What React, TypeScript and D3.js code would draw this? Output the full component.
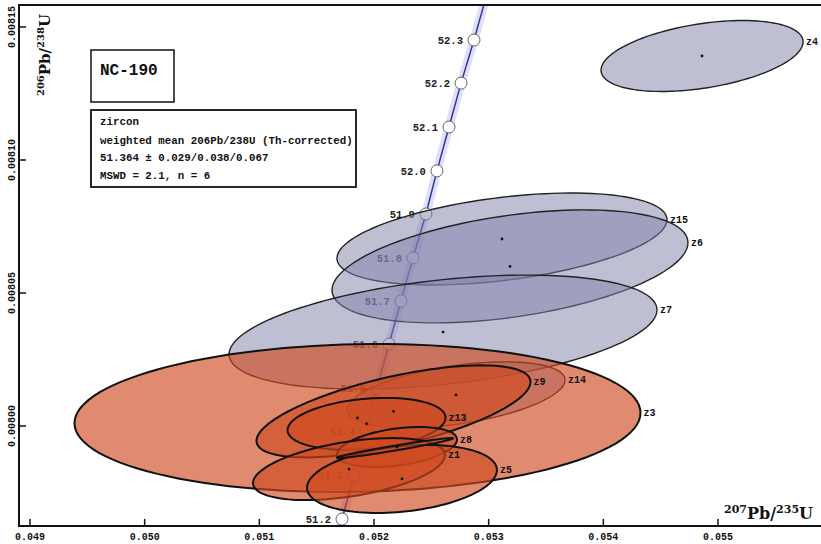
import { useEffect, useRef } from "react";
import * as d3 from "d3";

// axis ticks
const X_TICKS = [0.049, 0.050, 0.051, 0.052, 0.053, 0.054, 0.055];
const Y_TICKS = [0.00800, 0.00805, 0.00810, 0.00815];

// concordia age marks (Ma)
const AGES   = [51.2, 51.3, 51.4, 51.5, 51.6, 51.7, 51.8, 51.9, 52.0, 52.1, 52.2, 52.3];
const AGE_X  = [0.051721, 0.051826, 0.051930, 0.052026, 0.052131, 0.052235, 0.052340, 0.052453, 0.052549, 0.052654, 0.052759, 0.052872];
const AGE_Y  = [0.0079650, 0.0079816, 0.0079981, 0.0080143, 0.0080308, 0.0080470, 0.0080632, 0.0080797, 0.0080959, 0.0081124, 0.0081289, 0.0081451];
// where the curve leaves the frame
const CURVE_LOW  = [0.051703, 0.0079624];
const CURVE_HIGH = [0.052958, 0.0081583];

// error ellipses: centre, half extent in x and y, correlation
const NAMES = ["z4", "z15", "z6", "z7", "z14", "z3", "z9", "z13", "z8", "z1", "z5", ""];
const CX    = [0.054861, 0.053116, 0.053186, 0.052602, 0.052715, 0.051856, 0.052170, 0.051935, 0.052201, 0.051782, 0.052244, 0.052183];
const CY    = [0.0081391, 0.0080703, 0.0080600, 0.0080353, 0.0080117, 0.0080030, 0.0080055, 0.0080008, 0.0079921, 0.0079838, 0.0079801, 0.0079917];
const SX    = [0.000881, 0.001439, 0.001552, 0.001866, 0.000951, 0.002468, 0.001195, 0.000689, 0.000523, 0.000837, 0.000828, 0.000506];
const SY    = [1.334e-5, 1.729e-5, 2.124e-5, 2.143e-5, 1.240e-5, 2.782e-5, 1.730e-5, 9.77e-6, 7.52e-6, 1.165e-5, 1.278e-5, 3.76e-6];
const RHO   = [0.40, 0.42, 0.42, 0.39, 0.45, 0.07, 0.64, 0.24, 0.37, 0.45, 0.26, 0.97];
const USED  = [false, false, false, false, false, true, true, true, true, true, true, true];

const SAMPLE = "NC-190";
const INFO_LINES = [
  "zircon",
  "weighted mean 206Pb/238U (Th-corrected)",
  "51.364 \u00b1 0.029/0.038/0.067",
  "MSWD = 2.1, n = 6",
];

const MONO = "'Liberation Mono', 'DejaVu Sans Mono', monospace";
const SERIF = "'DejaVu Serif', 'Liberation Serif', serif";

export default function App() {
  const svgRef = useRef<SVGSVGElement>(null);

  useEffect(() => {
    if (!svgRef.current) return;
    const W = 821, H = 544;
    const L = 19, T = 5, R = 821, B = 526;
    const svg = d3.select(svgRef.current).attr("width", W).attr("height", H);
    svg.selectAll("*").remove();

    const x = d3.scaleLinear().domain([0.049, 0.055]).range([30, 718]);
    const y = d3.scaleLinear().domain([0.008, 0.00815]).range([426, 27]);

    svg.append("rect").attr("width", W).attr("height", H).attr("fill", "white");
    svg.append("defs").append("clipPath").attr("id", "plot")
      .append("rect").attr("x", L).attr("y", T).attr("width", R - L).attr("height", B - T);

    const g = svg.append("g").attr("clip-path", "url(#plot)");

    // concordia
    const pts: [number, number][] = [CURVE_LOW as [number, number], ...AGES.map((_, i) => [AGE_X[i], AGE_Y[i]] as [number, number]), CURVE_HIGH as [number, number]];
    const cline = d3.line<[number, number]>().x(d => x(d[0])).y(d => y(d[1]));
    g.append("path").attr("d", cline(pts)!).attr("fill", "none").attr("stroke", "#d2d2f4").attr("stroke-width", 9).attr("opacity", 0.7);
    g.append("path").attr("d", cline(pts)!).attr("fill", "none").attr("stroke", "#34349a").attr("stroke-width", 1.5);
    AGES.forEach((a, i) => {
      const px = x(AGE_X[i]), py = y(AGE_Y[i]);
      g.append("circle").attr("cx", px).attr("cy", py).attr("r", 6).attr("fill", "white").attr("stroke", "#666").attr("stroke-width", 1);
      g.append("text").attr("x", px - 11).attr("y", py + 4).attr("text-anchor", "end")
        .attr("font-family", MONO).attr("font-weight", "bold").attr("font-size", 10.5).attr("fill", "#222").text(a.toFixed(1));
    });

    // ellipses
    const thetas = d3.range(0, 120).map(k => (k / 120) * Math.PI * 2);
    const eline = d3.line<[number, number]>().x(d => x(d[0])).y(d => y(d[1])).curve(d3.curveLinearClosed);
    NAMES.forEach((_, i) => {
      const s = Math.sqrt(1 - RHO[i] * RHO[i]);
      const ring = thetas.map(t => [CX[i] + SX[i] * Math.cos(t), CY[i] + SY[i] * (RHO[i] * Math.cos(t) + s * Math.sin(t))] as [number, number]);
      g.append("path").attr("d", eline(ring)!)
        .attr("fill", USED[i] ? "#cf4a20" : "#8080aa")
        .attr("fill-opacity", USED[i] ? 0.64 : 0.5)
        .attr("stroke", USED[i] ? "#111" : "#222")
        .attr("stroke-width", USED[i] ? 2 : 1.4);
    });
    NAMES.forEach((n, i) => {
      if (!n) return;
      g.append("circle").attr("cx", x(CX[i])).attr("cy", y(CY[i])).attr("r", 1.4).attr("fill", "#111");
      const tx = x(CX[i] + SX[i]), ty = y(CY[i] + RHO[i] * SY[i]);
      g.append("text").attr("x", tx + 3).attr("y", ty + 3)
        .attr("font-family", MONO).attr("font-weight", "bold").attr("font-size", 10).attr("fill", "#111").text(n);
    });

    // frame and ticks
    svg.append("path").attr("d", `M${R},${T}H${L}V${B}H${R}`).attr("fill", "none").attr("stroke", "#111").attr("stroke-width", 2);
    X_TICKS.forEach(t => {
      svg.append("line").attr("x1", x(t)).attr("x2", x(t)).attr("y1", B).attr("y2", B - 7).attr("stroke", "#111").attr("stroke-width", 1.5);
      svg.append("text").attr("x", x(t)).attr("y", 540).attr("text-anchor", "middle")
        .attr("font-family", MONO).attr("font-weight", "bold").attr("font-size", 10).attr("fill", "#111").text(t.toFixed(3));
    });
    Y_TICKS.forEach(t => {
      svg.append("line").attr("x1", L).attr("x2", L + 7).attr("y1", y(t)).attr("y2", y(t)).attr("stroke", "#111").attr("stroke-width", 1.5);
      svg.append("text").attr("transform", `translate(15,${y(t)}) rotate(-90)`).attr("text-anchor", "middle")
        .attr("font-family", MONO).attr("font-weight", "bold").attr("font-size", 10).attr("fill", "#111").text(t.toFixed(5));
    });

    // axis titles
    const xt = svg.append("text").attr("x", 813).attr("y", 519).attr("text-anchor", "end")
      .attr("font-family", SERIF).attr("font-weight", "bold").attr("font-size", 16).attr("fill", "#111");
    xt.append("tspan").attr("font-size", 11).attr("dy", -6).text("207");
    xt.append("tspan").attr("dy", 6).text("Pb/");
    xt.append("tspan").attr("font-size", 11).attr("dy", -6).text("235");
    xt.append("tspan").attr("dy", 6).text("U");

    const yt = svg.append("text").attr("transform", "translate(50,55) rotate(-90)").attr("text-anchor", "middle")
      .attr("font-family", SERIF).attr("font-weight", "bold").attr("font-size", 15).attr("fill", "#111");
    yt.append("tspan").attr("font-size", 10).attr("dy", -6).text("206");
    yt.append("tspan").attr("dy", 6).text("Pb/");
    yt.append("tspan").attr("font-size", 10).attr("dy", -6).text("238");
    yt.append("tspan").attr("dy", 6).text("U");

    // sample box
    svg.append("rect").attr("x", 91).attr("y", 50).attr("width", 83).attr("height", 52).attr("fill", "white").attr("stroke", "#111").attr("stroke-width", 1.5);
    svg.append("text").attr("x", 100).attr("y", 75).attr("font-family", MONO).attr("font-weight", "bold").attr("font-size", 16).attr("fill", "#111").text(SAMPLE);

    svg.append("rect").attr("x", 91).attr("y", 110).attr("width", 265).attr("height", 77).attr("fill", "white").attr("stroke", "#111").attr("stroke-width", 1.8);
    INFO_LINES.forEach((s, i) => {
      svg.append("text").attr("x", 100).attr("y", [125, 144, 161, 179][i])
        .attr("font-family", MONO).attr("font-weight", "bold").attr("font-size", 10.8).attr("fill", "#111").text(s);
    });
  }, []);

  return (
    <div style={{ position: "absolute", left: 0, top: 0 }}>
      <svg ref={svgRef} style={{ display: "block" }} />
    </div>
  );
}
